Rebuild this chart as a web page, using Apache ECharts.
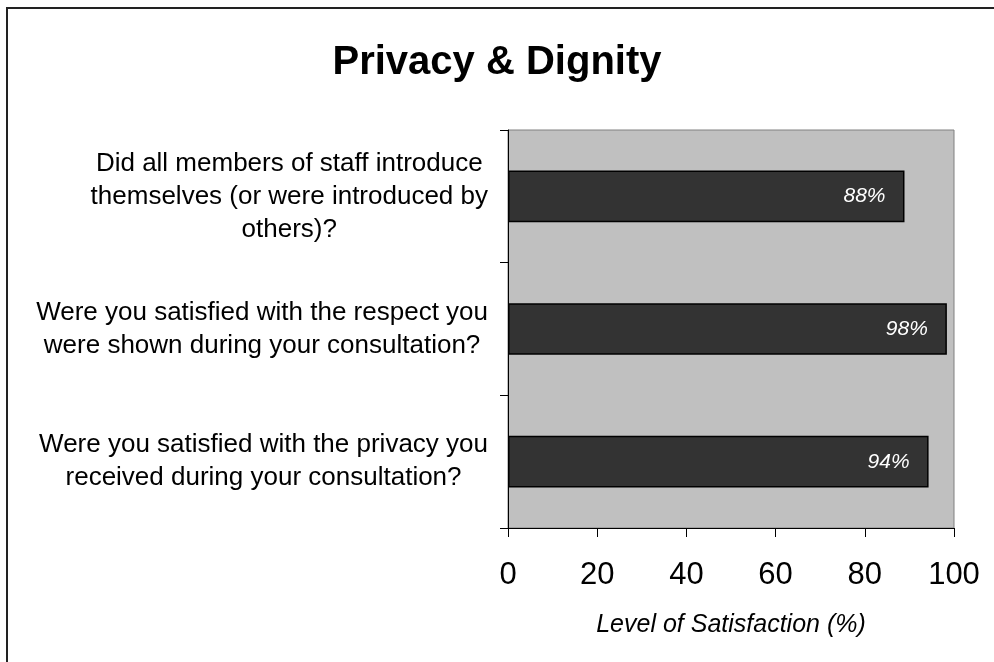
<!DOCTYPE html>
<html>
<head>
<meta charset="utf-8">
<script src="https://cdn.jsdelivr.net/npm/echarts@6/dist/echarts.min.js"></script>
<style>
html,body{margin:0;padding:0;background:#fff;}
#chart{width:994px;height:662px;}
</style>
</head>
<body>
<div id="chart"></div>
<script>
const titleText = 'Privacy & Dignity';
const categories = [
  'Did all members of staff introduce\nthemselves (or were introduced by\nothers)?',
  'Were you satisfied with the respect you\nwere shown during your consultation?',
  'Were you satisfied with the privacy you\nreceived during your consultation?'
];
const values = [88.9, 98.4, 94.3];
const valueLabels = ['88%', '98%', '94%'];
const xTicks = [0, 20, 40, 60, 80, 100];
const xAxisName = 'Level of Satisfaction (%)';

const FONT = '"Liberation Sans", Arial, sans-serif';
const chart = echarts.init(document.getElementById('chart'));
chart.setOption({
  animation: false,
  backgroundColor: '#ffffff',
  title: {
    text: titleText,
    left: 'center',
    top: 38,
    textStyle: { fontFamily: FONT, fontSize: 40, fontWeight: 'bold', color: '#000' }
  },
  graphic: [{
    type: 'rect',
    shape: { x: 7, y: 8, width: 1000, height: 700 },
    style: { fill: 'none', stroke: '#222', lineWidth: 2 },
    silent: true
  }],
  grid: {
    left: 508, right: 40, top: 130, bottom: 134,
    show: true, backgroundColor: '#c0c0c0', borderColor: '#808080', borderWidth: 1
  },
  xAxis: {
    type: 'value', min: 0, max: 100, interval: 20,
    axisLine: { show: true, lineStyle: { color: '#000', width: 1 } },
    axisTick: { show: true, length: 9, lineStyle: { color: '#000' } },
    splitLine: { show: false },
    axisLabel: {
      margin: 32, fontFamily: FONT, fontSize: 31, color: '#000',
      formatter: v => xTicks.indexOf(v) >= 0 ? String(v) : ''
    },
    name: xAxisName, nameLocation: 'middle', nameGap: 85,
    nameTextStyle: { fontFamily: FONT, fontSize: 25, fontStyle: 'italic', color: '#000' }
  },
  yAxis: {
    type: 'category', data: categories, inverse: true,
    axisLine: { show: true, lineStyle: { color: '#000', width: 1 } },
    axisTick: { show: true, length: 8, lineStyle: { color: '#000' } },
    axisLabel: {
      margin: 20, align: 'right', color: '#000', fontFamily: FONT, fontSize: 26,
      formatter: v => v.split('\n').map(l => '{a|' + l + '}').join('\n'),
      rich: { a: { align: 'center', fontFamily: FONT, fontSize: 26, lineHeight: 33, color: '#000' } }
    }
  },
  series: [{
    type: 'bar',
    data: values,
    barWidth: '39%',
    itemStyle: { color: '#333333', borderColor: '#000', borderWidth: 1.5 },
    label: {
      show: true, position: 'insideRight', distance: 19,
      color: '#fff', fontFamily: FONT, fontSize: 21, fontStyle: 'italic',
      formatter: p => valueLabels[p.dataIndex]
    }
  }]
});
</script>
</body>
</html>
